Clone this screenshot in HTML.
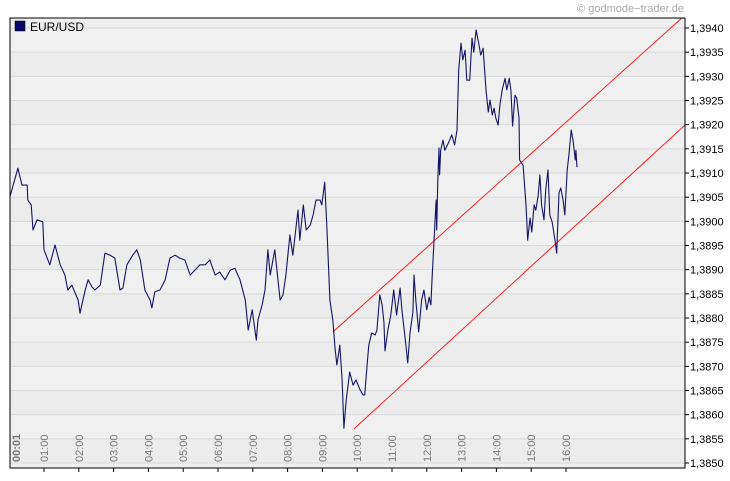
<!DOCTYPE html>
<html><head><meta charset="utf-8"><style>
body{margin:0;background:#fff;}
svg{display:block;font-family:"Liberation Sans",sans-serif;}
</style></head><body>
<svg id="chart" width="730" height="481" viewBox="0 0 730 481" xmlns="http://www.w3.org/2000/svg">
<defs><clipPath id="plotclip"><rect x="10" y="18" width="675" height="450"/></clipPath></defs>
<g id="bands"></g>
<g id="grid"></g>
<g id="channel" clip-path="url(#plotclip)"></g>
<path id="series" fill="none" stroke="#141466" stroke-width="1.1" stroke-linejoin="round" clip-path="url(#plotclip)"/>
<rect x="10" y="18" width="675" height="450" fill="none" stroke="#000" stroke-width="1"/>
<g id="yaxis"></g>
<g id="xaxis"></g>
<g>
<rect x="15" y="21" width="10" height="10" fill="#0a0a66" stroke="#000" stroke-width="0.5"/>
<text x="30" y="31" font-size="12" fill="#000">EUR/USD</text>
</g>
<text x="684" y="12" font-size="11" fill="#aaa" text-anchor="end">© godmode−trader.de</text>
</svg>
<script>
const times=[1,15,22,31,32,38,41,48,58,60,70,79,88,96,101,108,119,122,131,136,143,148,157,165,174,182,191,196,203,213,220,226,234,243,246,251,260,269,277,286,294,303,312,320,329,338,346,355,363,372,381,389,398,407,412,419,426,429,436,441,446,450,458,467,472,477,484,489,498,501,507,512,519,524,529,536,539,544,548,553,558,562,565,570,574,577,581,587,593,598,605,610,613,617,620,625,631,634,639,643,646,648,653,658,663,668,674,677,681,684,687,691,696,698,701,706,711,715,720,724,727,729,732,736,737,739,741,742,744,748,751,758,763,768,772,775,779,782,786,789,794,798,801,805,810,813,817,822,826,829,833,836,839,843,846,850,855,858,862,865,868,872,875,879,880,886,891,894,898,901,905,908,912,915,918,922,925,929,932,936,941,944,948,951,955,958,962,965,969,972,976,977,979];
const prices=[1.3905,1.3911,1.39075,1.39075,1.39044,1.39034,1.38982,1.39003,1.38999,1.38941,1.3891,1.38951,1.3891,1.38889,1.38858,1.38868,1.38837,1.3881,1.38858,1.38879,1.38864,1.38858,1.38868,1.38934,1.3893,1.38924,1.38858,1.38862,1.3891,1.3893,1.38941,1.3892,1.38858,1.38837,1.38821,1.38854,1.38858,1.38879,1.38924,1.3893,1.38924,1.3892,1.38889,1.38899,1.3891,1.3891,1.3892,1.38889,1.38895,1.38879,1.38899,1.38903,1.38879,1.38837,1.38775,1.38817,1.38754,1.38796,1.38827,1.38858,1.38941,1.38889,1.38941,1.38837,1.38848,1.38889,1.38972,1.3893,1.39023,1.38961,1.39034,1.38982,1.38992,1.39013,1.39044,1.39044,1.39034,1.39081,1.38982,1.38837,1.38796,1.38734,1.38703,1.38744,1.38672,1.38572,1.3863,1.38688,1.38661,1.38672,1.38651,1.38641,1.38641,1.38703,1.38744,1.38769,1.38765,1.38775,1.38848,1.38827,1.38792,1.38732,1.38775,1.38806,1.38858,1.38806,1.38862,1.38817,1.38775,1.38744,1.38707,1.38769,1.38812,1.38889,1.38837,1.38771,1.38837,1.38858,1.38817,1.38843,1.38827,1.38879,1.38951,1.39044,1.38982,1.39085,1.39152,1.39096,1.39147,1.39168,1.39147,1.39164,1.39179,1.39158,1.39189,1.39313,1.39369,1.39334,1.39354,1.39292,1.39292,1.39379,1.3935,1.39396,1.39365,1.39344,1.39358,1.39272,1.39226,1.39251,1.3922,1.39234,1.39214,1.39199,1.39241,1.39272,1.39296,1.39272,1.39296,1.39272,1.39197,1.39261,1.39255,1.39214,1.39127,1.39116,1.39034,1.38961,1.39007,1.38978,1.39034,1.39023,1.39054,1.39096,1.39034,1.39003,1.39065,1.39106,1.39013,1.38999,1.38961,1.38934,1.39059,1.39069,1.39044,1.39013,1.39106,1.39137,1.39189,1.39168,1.39127,1.39147,1.39112];
const yTicks=[1.3850,1.3855,1.3860,1.3865,1.3870,1.3875,1.3880,1.3885,1.3890,1.3895,1.3900,1.3905,1.3910,1.3915,1.3920,1.3925,1.3930,1.3935,1.3940];
const xTickHours=[1,2,3,4,5,6,7,8,9,10,11,12,13,14,15,16];
const upperChannelTimes=[558,1160];
const upperChannelPrices=[1.38771,1.39421];
const lowerChannelTimes=[594,1165];
const lowerChannelPrices=[1.38570,1.39199];

const NS='http://www.w3.org/2000/svg';
function xs(m){return 9.2+m/60*34.8;}
function ys(p){return 463-(p-1.3850)/0.0090*435;}
function mk(tag,attrs,parent){const e=document.createElementNS(NS,tag);for(const k in attrs)e.setAttribute(k,attrs[k]);parent.appendChild(e);return e;}
const bands=document.getElementById('bands'),grid=document.getElementById('grid'),yax=document.getElementById('yaxis'),xax=document.getElementById('xaxis'),ch=document.getElementById('channel');
let bg=mk('rect',{x:10,y:18,width:675,height:450,fill:'#efefef'},bands);


for(let i=0;i<yTicks.length-1;i++){
  const y1=ys(yTicks[i+1]),y0=ys(yTicks[i]);
  const b=mk('rect',{x:10,y:y1,width:675,height:y0-y1,fill:(i%2==0)?'#ececec':'#f0f0f0'},bands);
  
  
}
yTicks.forEach(v=>{
  const y=ys(v);
  const l=mk('line',{x1:10,x2:685,y1:y,y2:y,stroke:'#dadada','stroke-width':1},grid);
  
  
  const t=mk('line',{x1:685,x2:689,y1:y,y2:y,stroke:'#000'},yax);
  
  
  const tx=mk('text',{x:690,y:y+4,'font-size':11,fill:'#000'},yax);
  tx.textContent=v.toFixed(4).replace('.',',');
  
  
});
xTickHours.forEach(h=>{
  const x=xs(h*60);
  const t=mk('line',{x1:x,x2:x,y1:468,y2:472,stroke:'#000'},xax);
  
  
  const tx=mk('text',{x:0,y:0,'font-size':11,fill:'#777',transform:'translate('+(x+4)+',462) rotate(-90)'},xax);
  tx.textContent=(h<10?'0':'')+h+':00';
  
  
});
const st=mk('text',{x:0,y:0,'font-size':11,'font-weight':'bold',fill:'#777',transform:'translate(20,462) rotate(-90)'},xax);
st.textContent='00:01';


[[upperChannelTimes,upperChannelPrices,'upper-channel-line'],[lowerChannelTimes,lowerChannelPrices,'lower-channel-line']].forEach(c=>{
  const l=mk('line',{x1:xs(c[0][0]),y1:ys(c[1][0]),x2:xs(c[0][1]),y2:ys(c[1][1]),stroke:'#ff2020','stroke-width':1},ch);
  
  
});
let d='';
times.forEach((m,i)=>{d+=(i?'L':'M')+xs(m).toFixed(1)+' '+ys(prices[i]).toFixed(1);});
document.getElementById('series').setAttribute('d',d);
</script>
</body></html>
